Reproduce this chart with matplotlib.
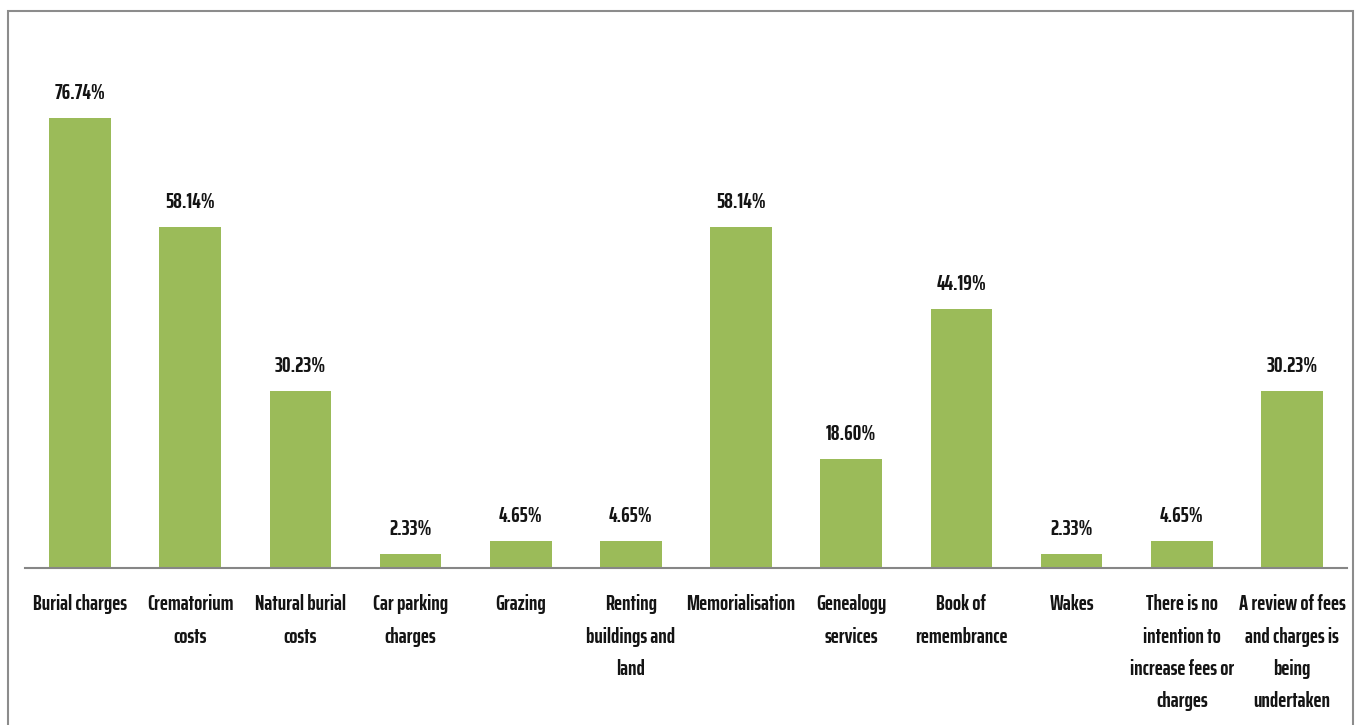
import matplotlib.pyplot as plt
from matplotlib.patches import Rectangle

categories = [
    "Burial charges", "Crematorium\ncosts", "Natural burial\ncosts",
    "Car parking\ncharges", "Grazing", "Renting\nbuildings and\nland",
    "Memorialisation", "Genealogy\nservices", "Book of\nremembrance",
    "Wakes", "There is no\nintention to\nincrease fees or\ncharges",
    "A review of fees\nand charges is\nbeing\nundertaken",
]
values = [76.74, 58.14, 30.23, 2.33, 4.65, 4.65, 58.14, 18.60, 44.19, 2.33, 4.65, 30.23]

plt.rcParams['font.family'] = ['Saira ExtraCondensed', 'DejaVu Sans']

W, H = 1368, 725
px_per_pct = 5.864
fig = plt.figure(figsize=(W / 100, H / 100), dpi=100)
ax = fig.add_axes([25 / W, (H - 568) / H, (1347 - 25) / W, (568 - 30) / H])

x = list(range(len(values)))
ax.bar(x, values, width=0.56, color="#9BBB59")

# value labels above each bar
for xi, v in zip(x, values):
    ax.text(xi, v + 19 / px_per_pct, f"{v:.2f}%", ha="center", va="baseline",
            fontsize=15.5, fontweight="bold", color="#141414")

ax.set_xlim(-0.5, len(values) - 0.5)
ax.set_ylim(0, (568 - 30) / px_per_pct)
ax.set_xticks(x)
ax.set_xticklabels(categories, fontsize=15.5, fontweight="bold", color="#141414",
                   linespacing=1.76, va="top")
ax.tick_params(axis="x", length=0, pad=19)
ax.set_yticks([])
for s in ["top", "right", "left"]:
    ax.spines[s].set_visible(False)
ax.spines["bottom"].set_color("#868686")
ax.spines["bottom"].set_linewidth(1.5)

# grey frame around the chart
fig.patches.append(Rectangle((8 / W, -0.1), (1353 - 8) / W, 1.1 - 11 / H,
                             transform=fig.transFigure, fill=False,
                             edgecolor="#8c8c8c", linewidth=1.5))

fig.savefig("out.png", dpi=100)
